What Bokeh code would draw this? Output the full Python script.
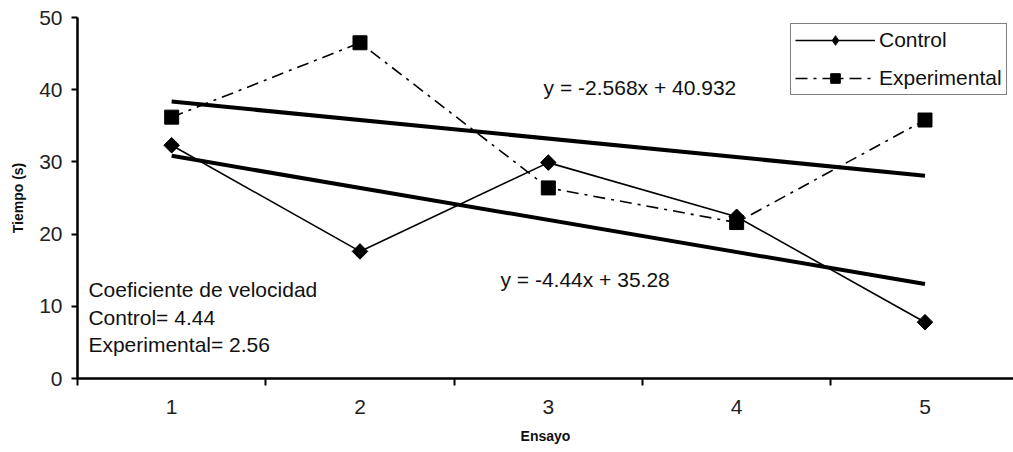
from math import pi
from bokeh.plotting import figure
from bokeh.models import FixedTicker, Legend, LegendItem, Label
from bokeh.embed import file_html
from bokeh.resources import INLINE

# Data
ensayos = [1, 2, 3, 4, 5]
control = [32.3, 17.6, 29.9, 22.4, 7.8]
experimental = [36.2, 46.5, 26.4, 21.6, 35.8]
control_slope, control_intercept = -4.44, 35.28
exp_slope, exp_intercept = -2.568, 40.932
y_ticks = [0, 10, 20, 30, 40, 50]

FONT = "Liberation Sans"

p = figure(width=1013, height=452, output_backend="svg", toolbar_location=None,
           x_range=(0.5, 5.47), y_range=(0, 50),
           min_border_left=77, min_border_right=0, min_border_top=17, min_border_bottom=74)
p.outline_line_color = None
p.xgrid.visible = False
p.ygrid.visible = False
p.background_fill_color = "white"
p.border_fill_color = "white"

# Trend lines
tx = [ensayos[0], ensayos[-1]]
p.line(tx, [control_slope * t + control_intercept for t in tx], line_color="black", line_width=4)
p.line(tx, [exp_slope * t + exp_intercept for t in tx], line_color="black", line_width=4)

# Series
lc = p.line(ensayos, control, line_color="black", line_width=1.6)
# diamond used for the legend swatch (hidden under the rotated squares)
mc_leg = p.scatter(ensayos, control, marker="diamond", size=14, fill_color="black", line_color="black")
p.scatter(ensayos, control, marker="square", angle=pi / 4, size=11,
          fill_color="black", line_color="black")
le = p.line(ensayos, experimental, line_color="black", line_width=1.6, line_dash="12 6 3 6")
me = p.scatter(ensayos, experimental, marker="square", size=14, fill_color="black", line_color="black")

# Axes
p.xaxis.ticker = FixedTicker(ticks=ensayos, minor_ticks=[0.5, 1.5, 2.5, 3.5, 4.5, 5.5])
p.xaxis.major_tick_line_color = None
p.xaxis.minor_tick_in = 0
p.xaxis.minor_tick_out = 7
p.xaxis.minor_tick_line_width = 2
p.xaxis.minor_tick_line_color = "black"
p.yaxis.ticker = FixedTicker(ticks=y_ticks)
p.yaxis.minor_tick_line_color = None
p.yaxis.major_tick_in = 0
p.yaxis.major_tick_out = 6
p.yaxis.major_tick_line_width = 2
for ax in (p.xaxis[0], p.yaxis[0]):
    ax.axis_line_width = 2.5
    ax.axis_line_color = "black"
    ax.major_label_text_font = FONT
    ax.major_label_text_font_size = "21px"
    ax.major_label_text_color = "#222222"
    ax.axis_label_text_font = FONT
    ax.axis_label_text_font_size = "14px"
    ax.axis_label_text_font_style = "bold"
    ax.axis_label_text_color = "#111111"
p.xaxis.axis_label = "Ensayo"
p.yaxis.axis_label = "Tiempo (s)"
p.xaxis.major_label_standoff = 14
p.xaxis.axis_label_standoff = 11
p.yaxis.major_label_standoff = 9
p.yaxis.axis_label_standoff = 10

# Texts
def lab(x, y, t):
    p.add_layout(Label(x=x, y=y, text=t, text_font=FONT, text_font_size="21px",
                       text_baseline="alphabetic", text_color="#111111"))

lab(2.975, 40.3, "y = -2.568x + 40.932")
lab(2.746, 13.7, "y = -4.44x + 35.28")
lab(0.558, 12.32, "Coeficiente de velocidad")
lab(0.558, 8.44, "Control= 4.44")
lab(0.558, 4.7, "Experimental= 2.56")

legend = Legend(items=[LegendItem(label="Control", renderers=[lc, mc_leg]),
                       LegendItem(label="Experimental", renderers=[le, me])],
                location=(713, 283))
legend.glyph_width = 80
legend.glyph_height = 24
legend.label_text_font = FONT
legend.label_text_font_size = "21px"
legend.label_text_color = "#111111"
legend.label_standoff = 4
legend.spacing = 14
legend.padding = 4
legend.margin = 0
legend.border_line_color = "black"
legend.border_line_width = 1.5
legend.background_fill_alpha = 1
p.add_layout(legend)

open("out.html", "w").write(file_html(p, INLINE))
